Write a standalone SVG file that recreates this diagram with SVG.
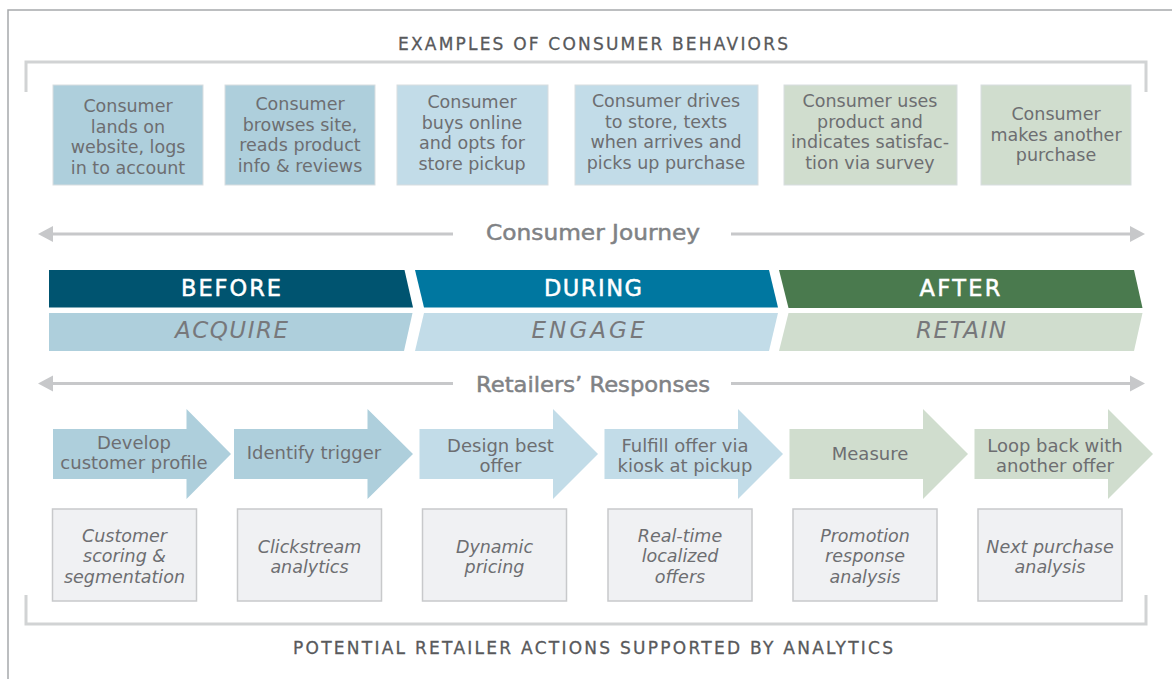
<svg xmlns="http://www.w3.org/2000/svg" width="1172" height="679" viewBox="0 0 1172 679">
<style>
.frame{fill:none;stroke:#a7a9ac;stroke-width:1.5}
.bracket{fill:none;stroke:#d1d3d4;stroke-width:3}
.hdr{font-family:"DejaVu Sans",sans-serif;font-size:17px;fill:#58595b;stroke:#58595b;stroke-width:0.3;text-anchor:middle}
.tb{font-family:"DejaVu Sans",sans-serif;font-size:17.5px;fill:#6d6e71;text-anchor:middle}
.at{font-family:"DejaVu Sans",sans-serif;font-size:18px;fill:#6d6e71;text-anchor:middle}
.bt{font-family:"DejaVu Sans",sans-serif;font-style:italic;font-size:17.5px;fill:#6d6e71;text-anchor:middle}
.jl{font-family:"DejaVu Sans",sans-serif;font-size:21.5px;fill:#808285;stroke:#808285;stroke-width:0.5;text-anchor:middle}
.ph{font-family:"DejaVu Sans",sans-serif;font-size:22.5px;fill:#ffffff;stroke:#ffffff;stroke-width:0.5;text-anchor:middle}
.pl{font-family:"DejaVu Sans",sans-serif;font-style:italic;font-size:23px;fill:#77787b;text-anchor:middle}
.c1{fill:#aecfdc}
.c2{fill:#c2dce8}
.c3{fill:#d0ddce}
.box{stroke:#d8dde0;stroke-width:1}
.act{fill:#f0f1f3;stroke:#c8c9cb;stroke-width:1.5}
.jline{stroke:#c7c8ca;stroke-width:3;fill:none}
.ahead{fill:#c7c8ca}
</style>

<path class="frame" d="M8,679 V10 H1172"/>

<g id="header-top">
<text class="hdr" x="593" y="50" textLength="390" lengthAdjust="spacing">EXAMPLES OF CONSUMER BEHAVIORS</text>
<path class="bracket" d="M26,92 V62 H1146 V92"/>
</g>

<g id="behavior-1">
<rect class="c1 box" x="53" y="85" width="150" height="100"/>
<text class="tb" x="128" y="112">Consumer</text>
<text class="tb" x="128" y="132.5">lands on</text>
<text class="tb" x="128" y="153">website, logs</text>
<text class="tb" x="128" y="173.5">in to account</text>
</g>
<g id="behavior-2">
<rect class="c1 box" x="225" y="85" width="150" height="100"/>
<text class="tb" x="300" y="110">Consumer</text>
<text class="tb" x="300" y="130.5">browses site,</text>
<text class="tb" x="300" y="151">reads product</text>
<text class="tb" x="300" y="171.5">info &amp; reviews</text>
</g>
<g id="behavior-3">
<rect class="c2 box" x="397" y="85" width="151" height="100"/>
<text class="tb" x="472" y="108">Consumer</text>
<text class="tb" x="472" y="128.5">buys online</text>
<text class="tb" x="472" y="149">and opts for</text>
<text class="tb" x="472" y="169.5">store pickup</text>
</g>
<g id="behavior-4">
<rect class="c2 box" x="575" y="85" width="183" height="100"/>
<text class="tb" x="666" y="107">Consumer drives</text>
<text class="tb" x="666" y="127.5">to store, texts</text>
<text class="tb" x="666" y="148">when arrives and</text>
<text class="tb" x="666" y="168.5">picks up purchase</text>
</g>
<g id="behavior-5">
<rect class="c3 box" x="784" y="85" width="173" height="100"/>
<text class="tb" x="870" y="107">Consumer uses</text>
<text class="tb" x="870" y="127.5">product and</text>
<text class="tb" x="870" y="148">indicates satisfac-</text>
<text class="tb" x="870" y="168.5">tion via survey</text>
</g>
<g id="behavior-6">
<rect class="c3 box" x="981" y="85" width="150" height="100"/>
<text class="tb" x="1056" y="120">Consumer</text>
<text class="tb" x="1056" y="140.5">makes another</text>
<text class="tb" x="1056" y="161">purchase</text>
</g>

<g id="connectors">
<line class="jline" x1="50" y1="234" x2="453" y2="234"/>
<polygon class="ahead" points="38,234 53,226 53,242"/>
<line class="jline" x1="731" y1="234" x2="1132" y2="234"/>
<polygon class="ahead" points="1145,234 1130,226 1130,242"/>
<line class="jline" x1="50" y1="383.5" x2="453" y2="383.5"/>
<polygon class="ahead" points="38,383.5 53,375.5 53,391.5"/>
<line class="jline" x1="731" y1="383.5" x2="1132" y2="383.5"/>
<polygon class="ahead" points="1145,383.5 1130,375.5 1130,391.5"/>
</g>

<g id="label-journey">
<text class="jl" x="593" y="240" textLength="214" lengthAdjust="spacingAndGlyphs">Consumer Journey</text>
</g>

<g id="phase-before">
<polygon fill="#005470" points="49,270 404.5,270 413,307.5 49,307.5"/>
<text class="ph" x="231" y="296" textLength="100" lengthAdjust="spacing">BEFORE</text>
</g>
<g id="phase-during">
<polygon fill="#0077a0" points="415,270 769,270 778,307.5 424,307.5"/>
<text class="ph" x="593" y="296" textLength="98" lengthAdjust="spacing">DURING</text>
</g>
<g id="phase-after">
<polygon fill="#4a7a4e" points="779,270 1134,270 1142.5,308 788.5,308"/>
<text class="ph" x="960" y="296" textLength="81" lengthAdjust="spacing">AFTER</text>
</g>
<g id="phase-acquire">
<polygon class="c1" points="49,313 412.5,313 404,351 49,351"/>
<text class="pl" x="231.5" y="338" textLength="113" lengthAdjust="spacing">ACQUIRE</text>
</g>
<g id="phase-engage">
<polygon class="c2" points="424,313 778,313 769,351 415,351"/>
<text class="pl" x="588" y="338" textLength="113" lengthAdjust="spacing">ENGAGE</text>
</g>
<g id="phase-retain">
<polygon class="c3" points="788.5,313 1142.5,313 1134,351 779,351"/>
<text class="pl" x="961" y="338" textLength="90" lengthAdjust="spacing">RETAIN</text>
</g>

<g id="label-responses">
<text class="jl" x="593" y="391.5" textLength="234" lengthAdjust="spacingAndGlyphs">Retailers’ Responses</text>
</g>

<g id="response-1">
<polygon class="c1" points="53,429 186.5,429 186.5,409 231,454 186.5,499 186.5,479 53,479"/>
<text class="at" x="134" y="448.5">Develop</text>
<text class="at" x="134" y="468.5">customer profile</text>
</g>
<g id="response-2">
<polygon class="c1" points="234,429 367.5,429 367.5,409 413,454 367.5,499 367.5,479 234,479"/>
<text class="at" x="314" y="458.5">Identify trigger</text>
</g>
<g id="response-3">
<polygon class="c2" points="419.5,429 553,429 553,409 598,454 553,499 553,479 419.5,479"/>
<text class="at" x="500.5" y="451.5">Design best</text>
<text class="at" x="500.5" y="472">offer</text>
</g>
<g id="response-4">
<polygon class="c2" points="604.5,429 738,429 738,409 783,454 738,499 738,479 604.5,479"/>
<text class="at" x="685" y="451.5">Fulfill offer via</text>
<text class="at" x="685" y="472">kiosk at pickup</text>
</g>
<g id="response-5">
<polygon class="c3" points="789.5,429 923,429 923,409 968,454 923,499 923,479 789.5,479"/>
<text class="at" x="870" y="460">Measure</text>
</g>
<g id="response-6">
<polygon class="c3" points="974.5,429 1108,429 1108,409 1153,454 1108,499 1108,479 974.5,479"/>
<text class="at" x="1055" y="451.5">Loop back with</text>
<text class="at" x="1055" y="472">another offer</text>
</g>

<g id="action-1">
<rect class="act" x="52.5" y="509" width="144" height="92"/>
<text class="bt" x="124.5" y="541.5">Customer</text>
<text class="bt" x="124.5" y="562">scoring &amp;</text>
<text class="bt" x="124.5" y="582.5">segmentation</text>
</g>
<g id="action-2">
<rect class="act" x="237.5" y="509" width="144" height="92"/>
<text class="bt" x="309.5" y="552.5">Clickstream</text>
<text class="bt" x="309.5" y="573">analytics</text>
</g>
<g id="action-3">
<rect class="act" x="422.5" y="509" width="144" height="92"/>
<text class="bt" x="494.5" y="552.5">Dynamic</text>
<text class="bt" x="494.5" y="573">pricing</text>
</g>
<g id="action-4">
<rect class="act" x="608" y="509" width="144" height="92"/>
<text class="bt" x="680" y="541.5">Real-time</text>
<text class="bt" x="680" y="562">localized</text>
<text class="bt" x="680" y="582.5">offers</text>
</g>
<g id="action-5">
<rect class="act" x="793" y="509" width="144" height="92"/>
<text class="bt" x="865" y="541.5">Promotion</text>
<text class="bt" x="865" y="562">response</text>
<text class="bt" x="865" y="582.5">analysis</text>
</g>
<g id="action-6">
<rect class="act" x="978" y="509" width="144" height="92"/>
<text class="bt" x="1050" y="552.5">Next purchase</text>
<text class="bt" x="1050" y="573">analysis</text>
</g>

<g id="footer">
<path class="bracket" d="M26,595 V624 H1146 V595"/>
<text class="hdr" x="593" y="654" textLength="600" lengthAdjust="spacing">POTENTIAL RETAILER ACTIONS SUPPORTED BY ANALYTICS</text>
</g>
</svg>
